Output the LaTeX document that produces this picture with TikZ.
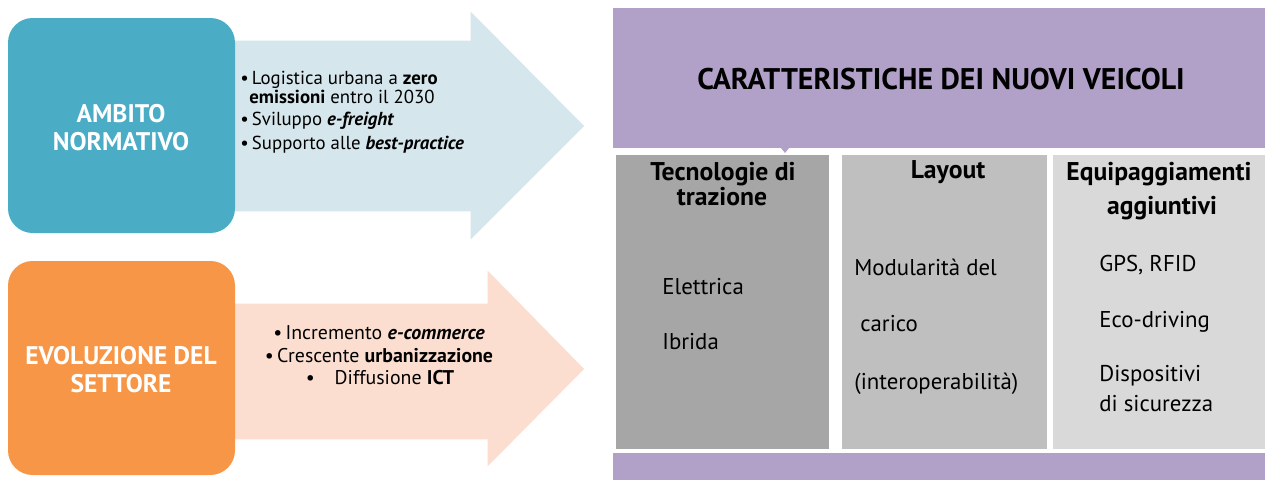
\documentclass[tikz,border=0pt]{standalone}
\usepackage{fontspec}
\setmainfont{PT Sans}
\usepackage{xcolor}
\usetikzlibrary{positioning}
\definecolor{aqua}{RGB}{75,172,198}
\definecolor{aqualight}{RGB}{214,230,237}
\definecolor{tangerine}{RGB}{247,150,70}
\definecolor{peach}{RGB}{251,222,208}
\definecolor{lilac}{RGB}{177,160,199}
\definecolor{grayA}{RGB}{166,166,166}
\definecolor{grayB}{RGB}{191,191,191}
\definecolor{grayC}{RGB}{217,217,217}

\begin{document}
\begin{tikzpicture}[x=0.02cm, y=-0.02cm,
  boxlabel/.style={font=\fontsize{14.5}{16}\selectfont\bfseries, text=white, align=center},
  bullet/.style={font=\fontsize{10.7}{12}\selectfont, anchor=mid west, inner sep=0pt},
  bulletc/.style={font=\fontsize{11.3}{13}\selectfont, anchor=mid, inner sep=0pt},
  colhead/.style={font=\fontsize{14.6}{17}\selectfont\bfseries, anchor=mid, inner sep=0pt},
  colitem/.style={font=\fontsize{13}{15}\selectfont, anchor=mid west, inner sep=0pt}]
\useasboundingbox (0,0) rectangle (1265,480);
% ---- left side: arrows behind the two boxes
\draw[fill=aqualight, draw=white, line width=0.6pt]
  (225,40) -- (470,40) -- (470,10) -- (585,126) -- (470,241) -- (470,212) -- (225,212) -- cycle;
\draw[fill=peach, draw=white, line width=0.6pt]
  (225,303) -- (487,303) -- (487,269) -- (585,369) -- (487,468) -- (487,440) -- (225,440) -- cycle;
\fill[aqua, rounded corners=14pt] (8,18) rectangle (235,233);
\fill[tangerine, rounded corners=14pt] (8,261) rectangle (235,475);
\node[boxlabel] (ambito) at (121,128) {AMBITO\\NORMATIVO};
\node[boxlabel] (evoluzione) at (121,370) {EVOLUZIONE DEL\\SETTORE};
% bullets, first arrow
\node[bullet] (b1) at (240,80) {\textbullet\,Logistica urbana a \textbf{zero}};
\node[bullet] (b2) at (249,99) {\textbf{emissioni} entro il 2030};
\node[bullet] (b3) at (240,121) {\textbullet\,Sviluppo \textbf{\textit{e-freight}}};
\node[bullet] (b4) at (240,145) {\textbullet\,Supporto alle \textbf{\textit{best-practice}}};
% bullets, second arrow
\node[bulletc] (c1) at (379,335) {\textbullet\,Incremento \textbf{\textit{e-commerce}}};
\node[bulletc] (c2) at (379,358) {\textbullet\,Crescente \textbf{urbanizzazione}};
\node[bulletc] (c3) at (380,380) {\textbullet\quad Diffusione \textbf{ICT}};
% ---- right side: header, columns, footer band
\fill[lilac] (613,8) rectangle (1265,148);
\fill[lilac] (781,148) -- (789,148) -- (785,153) -- cycle;
\node[font=\fontsize{17}{20}\selectfont\bfseries] (titolo) at (941,79) {CARATTERISTICHE DEI NUOVI VEICOLI};
\fill[grayA] (616,155) rectangle (829,449);
\fill[grayB] (842,155) rectangle (1047,449);
\fill[grayC] (1053,155) rectangle (1265,449);
\fill[lilac] (613,453) rectangle (1265,480);
% column 1
\node[colhead] (h1a) at (723,176) {Tecnologie di};
\node[colhead] (h1b) at (722,201) {trazione};
\node[colitem] (elettrica) at (662,290) {Elettrica};
\node[colitem] (ibrida) at (662,345) {Ibrida};
% column 2
\node[colhead] (h2) at (948,174) {Layout};
\node[colitem] (mod) at (854,271) {Modularità del};
\node[colitem] (carico) at (860,327) {carico};
\node[colitem] (inter) at (854,385) {(interoperabilità)};
% column 3
\node[colhead] (h3a) at (1159,176) {Equipaggiamenti};
\node[colhead] (h3b) at (1162,210) {aggiuntivi};
\node[colitem] (gps) at (1099,267) {GPS, RFID};
\node[colitem] (eco) at (1099,323) {Eco-driving};
\node[colitem] (disp) at (1099,377) {Dispositivi};
\node[colitem] (sic) at (1099,407) {di sicurezza};
\end{tikzpicture}
\end{document}
